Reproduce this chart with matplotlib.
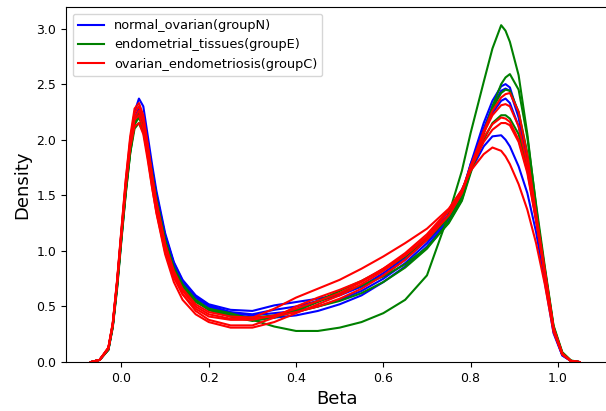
import numpy as np
import matplotlib
matplotlib.use('Agg')
import matplotlib.pyplot as plt

beta = [-0.07, -0.05, -0.03, -0.02, -0.01, 0.00, 0.01, 0.02, 0.03, 0.04,
        0.05, 0.06, 0.07, 0.08, 0.10, 0.12, 0.14, 0.17, 0.20, 0.25,
        0.30, 0.35, 0.40, 0.45, 0.50, 0.55, 0.60, 0.65, 0.70, 0.75, 0.78,
        0.80, 0.83, 0.85, 0.87, 0.88, 0.89, 0.91, 0.93, 0.95, 0.97, 0.99,
        1.01, 1.03, 1.05]

# normal ovarian (group N)
n1 = [0.00, 0.02, 0.12, 0.33, 0.70, 1.15, 1.58, 1.95, 2.25, 2.37,
      2.30, 2.04, 1.78, 1.54, 1.16, 0.90, 0.74, 0.60, 0.52, 0.47,
      0.46, 0.51, 0.54, 0.57, 0.61, 0.68, 0.78, 0.92, 1.10, 1.33, 1.52,
      1.78, 2.15, 2.35, 2.48, 2.50, 2.47, 2.22, 1.82, 1.32, 0.82, 0.30,
      0.07, 0.01, 0.00]
n2 = [0.00, 0.02, 0.12, 0.34, 0.72, 1.17, 1.60, 1.95, 2.20, 2.28,
      2.20, 1.98, 1.73, 1.50, 1.13, 0.88, 0.72, 0.58, 0.50, 0.43,
      0.40, 0.40, 0.42, 0.46, 0.52, 0.60, 0.72, 0.86, 1.04, 1.28, 1.48,
      1.75, 2.10, 2.30, 2.44, 2.46, 2.44, 2.20, 1.80, 1.30, 0.80, 0.29,
      0.07, 0.01, 0.00]
n3 = [0.00, 0.02, 0.11, 0.32, 0.68, 1.12, 1.55, 1.90, 2.15, 2.22,
      2.15, 1.95, 1.72, 1.50, 1.13, 0.88, 0.72, 0.58, 0.50, 0.44,
      0.42, 0.44, 0.46, 0.50, 0.56, 0.64, 0.75, 0.89, 1.07, 1.30, 1.50,
      1.78, 2.08, 2.24, 2.35, 2.37, 2.33, 2.12, 1.76, 1.28, 0.78, 0.28,
      0.06, 0.01, 0.00]
n4 = [0.00, 0.02, 0.12, 0.33, 0.70, 1.14, 1.56, 1.92, 2.18, 2.25,
      2.18, 1.97, 1.74, 1.51, 1.14, 0.89, 0.73, 0.59, 0.51, 0.45,
      0.43, 0.47, 0.50, 0.55, 0.60, 0.68, 0.80, 0.94, 1.12, 1.36, 1.55,
      1.72, 1.94, 2.03, 2.04, 2.00, 1.94, 1.76, 1.52, 1.17, 0.72, 0.26,
      0.06, 0.01, 0.00]

# endometrial tissues (group E)
e1 = [0.00, 0.02, 0.12, 0.33, 0.70, 1.15, 1.56, 1.90, 2.14, 2.20,
      2.10, 1.88, 1.64, 1.42, 1.06, 0.82, 0.67, 0.54, 0.48, 0.44,
      0.38, 0.32, 0.28, 0.28, 0.31, 0.36, 0.44, 0.56, 0.78, 1.33, 1.72,
      2.06, 2.52, 2.82, 3.03, 2.98, 2.88, 2.58, 2.05, 1.40, 0.80, 0.30,
      0.08, 0.01, 0.00]
e2 = [0.00, 0.02, 0.11, 0.31, 0.66, 1.10, 1.52, 1.88, 2.14, 2.22,
      2.14, 1.93, 1.69, 1.46, 1.09, 0.84, 0.68, 0.55, 0.47, 0.41,
      0.37, 0.40, 0.46, 0.54, 0.62, 0.69, 0.77, 0.88, 1.03, 1.25, 1.45,
      1.70, 2.05, 2.30, 2.50, 2.56, 2.59, 2.45, 2.02, 1.42, 0.86, 0.33,
      0.09, 0.015, 0.00]
e3 = [0.00, 0.02, 0.12, 0.33, 0.70, 1.14, 1.56, 1.92, 2.16, 2.23,
      2.15, 1.94, 1.70, 1.47, 1.10, 0.85, 0.70, 0.56, 0.48, 0.42,
      0.40, 0.42, 0.45, 0.50, 0.55, 0.62, 0.72, 0.85, 1.02, 1.26, 1.46,
      1.72, 2.07, 2.28, 2.42, 2.45, 2.44, 2.25, 1.88, 1.36, 0.84, 0.32,
      0.08, 0.01, 0.00]
e4 = [0.00, 0.02, 0.11, 0.32, 0.68, 1.12, 1.53, 1.88, 2.10, 2.15,
      2.07, 1.87, 1.64, 1.42, 1.07, 0.83, 0.68, 0.55, 0.47, 0.41,
      0.38, 0.41, 0.47, 0.55, 0.64, 0.73, 0.83, 0.95, 1.10, 1.30, 1.48,
      1.72, 2.00, 2.15, 2.22, 2.22, 2.19, 2.05, 1.75, 1.30, 0.82, 0.31,
      0.08, 0.01, 0.00]

# ovarian endometriosis (group C)
c1 = [0.00, 0.02, 0.13, 0.35, 0.73, 1.19, 1.64, 2.00, 2.24, 2.30,
      2.20, 1.95, 1.68, 1.44, 1.06, 0.80, 0.64, 0.50, 0.43, 0.39,
      0.40, 0.48, 0.58, 0.66, 0.74, 0.84, 0.95, 1.07, 1.20, 1.38, 1.55,
      1.72, 1.87, 1.93, 1.90, 1.85, 1.78, 1.60, 1.37, 1.07, 0.70, 0.27,
      0.07, 0.01, 0.00]
c2 = [0.00, 0.02, 0.13, 0.35, 0.74, 1.20, 1.65, 2.03, 2.28, 2.33,
      2.22, 1.96, 1.68, 1.43, 1.04, 0.78, 0.61, 0.46, 0.38, 0.33,
      0.33, 0.40, 0.50, 0.58, 0.65, 0.73, 0.84, 0.96, 1.12, 1.32, 1.52,
      1.75, 2.08, 2.26, 2.38, 2.41, 2.42, 2.25, 1.86, 1.34, 0.83, 0.31,
      0.08, 0.01, 0.00]
c3 = [0.00, 0.02, 0.12, 0.34, 0.72, 1.17, 1.60, 1.96, 2.18, 2.22,
      2.10, 1.85, 1.58, 1.34, 0.97, 0.72, 0.56, 0.43, 0.36, 0.31,
      0.31, 0.36, 0.44, 0.52, 0.60, 0.70, 0.82, 0.96, 1.13, 1.36, 1.54,
      1.76, 2.02, 2.14, 2.20, 2.19, 2.16, 2.00, 1.72, 1.28, 0.80, 0.30,
      0.07, 0.01, 0.00]
c4 = [0.00, 0.02, 0.12, 0.33, 0.71, 1.15, 1.58, 1.93, 2.12, 2.15,
      2.05, 1.82, 1.57, 1.35, 0.99, 0.76, 0.61, 0.48, 0.41, 0.38,
      0.38, 0.42, 0.48, 0.55, 0.62, 0.72, 0.84, 0.98, 1.15, 1.37, 1.54,
      1.74, 1.98, 2.09, 2.15, 2.15, 2.13, 1.98, 1.70, 1.27, 0.79, 0.29,
      0.07, 0.01, 0.00]
c5 = [0.00, 0.02, 0.13, 0.34, 0.72, 1.17, 1.61, 1.97, 2.20, 2.26,
      2.16, 1.92, 1.66, 1.43, 1.06, 0.82, 0.66, 0.52, 0.45, 0.41,
      0.40, 0.41, 0.45, 0.50, 0.57, 0.66, 0.78, 0.92, 1.10, 1.32, 1.52,
      1.76, 2.06, 2.22, 2.31, 2.32, 2.30, 2.12, 1.78, 1.30, 0.80, 0.30,
      0.07, 0.01, 0.00]

groups = [
    ('normal_ovarian(groupN)', 'blue', [n1, n2, n3, n4]),
    ('endometrial_tissues(groupE)', 'green', [e1, e2, e3, e4]),
    ('ovarian_endometriosis(groupC)', 'red', [c1, c2, c3, c4, c5]),
]

fig = plt.figure(figsize=(6.06, 4.11), dpi=100)
ax = fig.add_axes([0.109, 0.119, 0.893, 0.863])

for label, color, samples in groups:
    for i, dens in enumerate(samples):
        ax.plot(beta, dens, color=color, linewidth=1.5,
                label=label if i == 0 else None)

ax.set_xlim(-0.127, 1.113)
ax.set_ylim(0, 3.19)
ax.set_xticks(np.arange(0, 1.01, 0.2))
ax.set_yticks(np.arange(0, 3.01, 0.5))
ax.tick_params(labelsize=9)
ax.set_xlabel('Beta', fontsize=13)
ax.set_ylabel('Density', fontsize=13)
ax.legend(loc='upper left', fontsize=9.3)

fig.savefig('out.png', dpi=100)
